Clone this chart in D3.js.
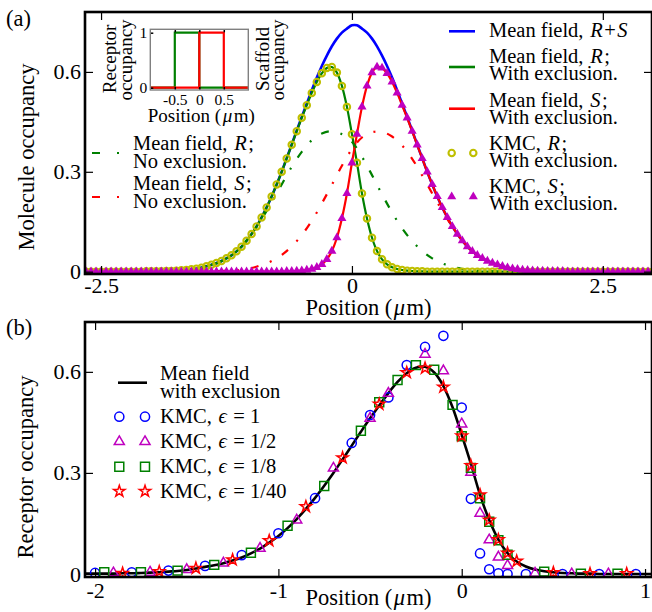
<!DOCTYPE html>
<html><head><meta charset="utf-8">
<script src="https://cdn.jsdelivr.net/npm/d3@7"></script>
<style>
body{margin:0;background:#fff}
svg text{font-family:"Liberation Serif","DejaVu Serif",serif;fill:#000;white-space:pre}
</style></head><body>
<svg id="c" width="652" height="612" xmlns="http://www.w3.org/2000/svg"></svg>
<script>
// ---------------- DATA ----------------
// panel (a): sampling grid of 0.05 um from -2.65 to 3.00 (114 points)
const gridStart = -2.65, gridStep = 0.05;
const mfTotal = [
 0,0,0,0,0,0,0,0,0,0,0,0,
 .001,.001,.001,.001,.002,.002,.003,.004,.005,.007,.009,.012,.016,.021,.026,.032,.040,.049,.061,.075,.093,.113,.136,.163,.193,.226,.262,.300,
 .341,.382,.424,.465,.505,.545,.583,.618,.649,.677,.700,.718,.730,.740,.740,.730,.718,.700,.677,.649,.618,.583,.545,.505,.465,.424,.382,.341,
 .300,.262,.226,.193,.163,.136,.113,.093,.075,.061,.049,.040,.032,.026,.021,.016,.012,.009,.007,.005,.004,.003,.002,.002,.001,.001,.001,.001,
 0,0,0,0,0,0,0,0,0,0,0,0,0,0,0,0,0,0];
const mfR = [
 0,0,0,0,0,0,0,0,0,0,0,0,
 .001,.001,.001,.001,.002,.002,.003,.004,.005,.007,.009,.012,.016,.021,.026,.032,.040,.049,.061,.075,.093,.113,.136,.163,.193,.226,.262,.300,
 .340,.381,.422,.462,.500,.537,.570,.596,.612,.615,.598,.558,.495,.413,.327,.235,.160,.102,.062,.037,.022,.013,.008,.005,.003,.002,.001,.001,
 0,0,0,0,0,0,0,0,0,0,0,0,0,0,0,0,0,0,0,0,0,0,0,0,0,0,0,0,
 0,0,0,0,0,0,0,0,0,0,0,0,0,0,0,0,0,0];
const mfS = [
 0,0,0,0,0,0,0,0,0,0,0,0,0,0,0,0,0,0,0,0,0,0,0,0,0,0,0,0,0,0,0,0,0,0,0,0,0,0,0,0,
 .001,.001,.002,.003,.005,.008,.013,.022,.037,.062,.102,.160,.235,.327,.413,.495,.558,.598,.615,.612,
 .596,.570,.537,.500,.462,.422,.381,.340,.300,.262,.226,.193,.163,.136,.113,.093,.075,.061,.049,.040,
 .032,.026,.021,.016,.012,.009,.007,.005,.004,.003,.002,.002,.001,.001,.001,.001,
 0,0,0,0,0,0,0,0,0,0,0,0,0,0,0,0,0,0];
const kmcR = [
 0,0,0,0,0,0,0,0,0,0,0,0,
 .001,.001,.001,.001,.002,.002,.003,.004,.005,.007,.009,.012,.016,.021,.026,.032,.040,.049,.061,.075,.093,.113,.136,.163,.193,.226,.262,.300,
 .340,.381,.422,.462,.500,.537,.570,.596,.612,.615,.598,.558,.495,.413,.327,.235,.160,.102,.062,.037,.022,.013,.008,.005,.003,.002,.001,.001,
 0,0,0,0,0,0,0,0,0,0,0,0,0,0,0,0,0,0,0,0,0,0,0,0,0,0,0,0,
 0,0,0,0,0,0,0,0,0,0,0,0,0,0,0,0,0,0];
const kmcS = [
 0,0,0,0,0,0,0,0,0,0,0,0,0,0,0,0,0,0,0,0,0,0,0,0,0,0,0,0,0,0,0,0,0,0,0,0,0,0,0,0,
 .001,.001,.002,.003,.005,.008,.013,.022,.037,.062,.102,.160,.235,.327,.413,.495,.558,.598,.615,.612,
 .596,.570,.537,.500,.462,.422,.381,.340,.300,.262,.226,.193,.163,.136,.113,.093,.075,.061,.049,.040,
 .032,.026,.021,.016,.012,.009,.007,.005,.004,.003,.002,.002,.001,.001,.001,.001,
 0,0,0,0,0,0,0,0,0,0,0,0,0,0,0,0,0,0];
// no-exclusion mean field: grid of 0.1 um from -2.7 to 3.0 (58 points)
const noexStart = -2.7, noexStep = 0.1;
const mfRnoex = [
 0,0,0,0,0,0,0,0,0,
 .001,.003,.005,.010,.018,.031,.050,.077,.113,.158,.208,.262,.315,.360,.395,.415,.422,.413,
 .390,.345,.290,.232,.178,.130,.092,.062,.040,.025,.015,.008,.004,.002,.001,
 0,0,0,0,0,0,0,0,0,0,0,0,0,0,0,0];
const mfSnoex = [
 0,0,0,0,0,0,0,0,0,0,0,0,0,
 .001,.002,.003,.006,.011,.020,.032,.050,.076,.110,.153,.205,.261,.318,
 .368,.403,.419,.420,.406,.379,.339,.289,.235,.183,.135,.095,.063,.040,.024,.014,.007,.004,.002,.001,
 0,0,0,0,0,0,0,0,0,0,0];
// inset: step profiles
const insetRX = [-1,-0.5,-0.5,0,0,1],  insetRY = [0,0,1,1,0,0];
const insetSX = [-1,0,0,0.5,0.5,1],    insetSY = [0,0,1,1,0,0];
// panel (b): KMC receptor occupancy for several epsilon
const eps1X  = [-2.0,-1.8,-1.6,-1.4,-1.2,-1.0,-0.8,-0.6,-0.5,-0.4,-0.3,-0.2,-0.1,0.0,0.05,0.10,0.15,0.20,0.25,0.35,0.55,0.75,0.95];
const eps1Y  = [0.003,0.005,0.010,0.024,0.056,0.121,0.225,0.389,0.472,0.524,0.620,0.674,0.707,0.494,0.223,0.061,0.014,0.002,0,0,0,0,0];
const eps2X  = [-1.9,-1.7,-1.5,-1.3,-1.1,-0.9,-0.7,-0.5,-0.4,-0.2,-0.1,0.0,0.05,0.10,0.15,0.20,0.25,0.40,0.60,0.80];
const eps2Y  = [0.003,0.005,0.013,0.032,0.076,0.160,0.314,0.462,0.536,0.652,0.603,0.445,0.302,0.180,0.101,0.050,0.025,0.002,0,0];
const eps8X  = [-1.95,-1.75,-1.55,-1.35,-1.15,-0.95,-0.75,-0.55,-0.45,-0.35,-0.25,-0.15,-0.05,0.0,0.05,0.10,0.15,0.20,0.25,0.45,0.65,0.85];
const eps8Y  = [0.005,0.005,0.010,0.027,0.063,0.143,0.261,0.425,0.510,0.576,0.620,0.606,0.502,0.409,0.315,0.225,0.155,0.100,0.057,0.007,0.001,0.001];
const eps40X = [-1.85,-1.65,-1.45,-1.25,-1.05,-0.85,-0.65,-0.45,-0.3,-0.2,-0.1,0.0,0.05,0.10,0.15,0.20,0.25,0.30,0.50,0.70,0.90];
const eps40Y = [0.002,0.007,0.017,0.042,0.099,0.200,0.345,0.504,0.598,0.611,0.555,0.410,0.322,0.235,0.160,0.102,0.062,0.038,0.004,0.001,0.001];
// ticks
const aXTicks = [-2.5, 0, 2.5], aYTicks = [0, 0.3, 0.6];
const bXTicks = [-2, -1, 0, 1], bYTicks = [0, 0.3, 0.6];
const inXTicks = [-0.5, 0, 0.5], inYTicks = [0, 1];

// ---------------- DRAW ----------------
const svg = d3.select('#c');
const C = {blue:'#0000ff', green:'#008000', red:'#ff0000', mag:'#bf00bf', yel:'#bfbf00'};
const gridX = mfR.map((_, i) => +(gridStart + i*gridStep).toFixed(3));
const noexX = mfRnoex.map((_, i) => +(noexStart + i*noexStep).toFixed(3));
const fmt = d => d === 0 ? '0' : String(d);
const TICKFS = 22, LABFS = 22.5, LEGFS = 20.5;
const FAM = '"Liberation Serif","DejaVu Serif",serif';

// mixed roman/italic text laid out as consecutive text runs
function rich(g, x, y, parts, fs, anchor){
  const grp = g.append('g');
  let cx = 0;
  parts.forEach((p, i) => {
    const t = grp.append('text').attr('x', cx).attr('y', 0).attr('font-size', fs)
      .attr('font-family', FAM).attr('font-style', p[1] ? 'italic' : null).text(p[0]);
    cx += t.node().getComputedTextLength() + (i < parts.length-1 ? 1.5 : 0);
  });
  const off = anchor === 'middle' ? -cx/2 : 0;
  grp.attr('transform', `translate(${x+off},${y})`);
  return grp;
}
function label(g, txt, fs, transform, fill){
  return g.append('text').attr('x',0).attr('y',0).attr('font-size',fs).attr('font-family',FAM)
    .attr('text-anchor','middle').attr('fill',fill||'#000').attr('transform',transform).text(txt);
}
function curve(g, xs, ys, x, y, color, w, dash){
  g.append('path').datum(xs.map((d,i)=>[d, ys[i]]))
   .attr('d', d3.line().x(d=>x(d[0])).y(d=>y(d[1])).curve(d3.curveCatmullRom.alpha(0.5)))
   .attr('fill','none').attr('stroke',color).attr('stroke-width',w)
   .attr('stroke-dasharray', dash || null);
}
function frame(g, P, x, y, xt, yt, pad){
  const axB = g.append('g').attr('transform',`translate(0,${P.b})`)
    .call(d3.axisBottom(x).tickValues(xt).tickFormat(fmt).tickSize(-8).tickPadding(pad));
  const axT = g.append('g').attr('transform',`translate(0,${P.t})`)
    .call(d3.axisTop(x).tickValues(xt).tickFormat('').tickSize(-8));
  const axL = g.append('g').attr('transform',`translate(${P.l},0)`)
    .call(d3.axisLeft(y).tickValues(yt).tickFormat(fmt).tickSize(-8).tickPadding(4));
  const axR = g.append('g').attr('transform',`translate(${P.r},0)`)
    .call(d3.axisRight(y).tickValues(yt).tickFormat('').tickSize(-8));
  [axB,axT,axL,axR].forEach(a => {
    a.attr('font-family', FAM);
    a.select('.domain').remove();
    a.selectAll('line').attr('stroke','#000').attr('stroke-width',1.2);
    a.selectAll('text').attr('font-size',TICKFS).attr('font-family',FAM).attr('fill','#000');
  });
  g.append('rect').attr('x',P.l).attr('y',P.t).attr('width',P.r-P.l).attr('height',P.b-P.t)
   .attr('fill','none').attr('stroke','#000').attr('stroke-width',2.6);
}

// ===== Panel (a) =====
const A = {l:85, r:652, t:12, b:274};
const xA = d3.scaleLinear().domain([-2.66, 2.99]).range([A.l, A.r]);
const yA = d3.scaleLinear().domain([-0.007, 0.78]).range([A.b, A.t]);
svg.append('clipPath').attr('id','clipA').append('rect')
  .attr('x',A.l).attr('y',A.t).attr('width',A.r-A.l).attr('height',A.b-A.t);
const gA = svg.append('g');
const dA = gA.append('g').attr('clip-path','url(#clipA)');
const DASHDOT = '8,12,2,12';
curve(dA, gridX, mfTotal, xA, yA, C.blue, 2.6);
curve(dA, gridX, mfR, xA, yA, C.green, 2.2);
curve(dA, gridX, mfS, xA, yA, C.red, 2.2);
curve(dA, noexX, mfRnoex, xA, yA, C.green, 2.2, DASHDOT);
curve(dA, noexX, mfSnoex, xA, yA, C.red, 2.2, DASHDOT);
dA.append('g').selectAll('circle').data(gridX.map((d,i)=>[d,kmcR[i]])).join('circle')
  .attr('cx',d=>xA(d[0])).attr('cy',d=>yA(d[1])).attr('r',3.2)
  .attr('fill','none').attr('stroke',C.yel).attr('stroke-width',2.1);
const triA = d3.symbol().type(d3.symbolTriangle).size(36);
dA.append('g').selectAll('path').data(gridX.map((d,i)=>[d,kmcS[i]])).join('path')
  .attr('d',triA).attr('transform',d=>`translate(${xA(d[0])},${yA(d[1])})`)
  .attr('fill',C.mag).attr('stroke','none');
frame(gA, A, xA, yA, aXTicks, aYTicks, 3);
// labels
rich(gA, (A.l+A.r)/2, 315, [['Position (',0],['\u03bc',1],['m)',0]], LABFS, 'middle');
label(gA, 'Molecule occupancy', LABFS, 'translate(34,157) rotate(-90)');
rich(gA, 6, 26, [['(a)',0]], LABFS);

// legend (a) right
const legR = gA.append('g');
const legRows = [
  {kind:'line', c:C.blue, hy:31.3, ty:[30.5], txt:[[['Mean field, ',0],['R',1],['+',0],['S',1]]]},
  {kind:'line', c:C.green, hy:67, ty:[56.5,73.5], txt:[[['Mean field, ',0],['R',1],[';',0]],[['With exclusion.',0]]]},
  {kind:'line', c:C.red, hy:108.7, ty:[100,117], txt:[[['Mean field, ',0],['S',1],[';',0]],[['With exclusion.',0]]]},
  {kind:'circ', c:C.yel, hy:153, ty:[143.5,160.5], txt:[[['KMC, ',0],['R',1],[';',0]],[['With exclusion.',0]]]},
  {kind:'tri', c:C.mag, hy:196.7, ty:[186.5,203], txt:[[['KMC, ',0],['S',1],[';',0]],[['With exclusion.',0]]]}
];
legRows.forEach(r => {
  if (r.kind === 'line') legR.append('line').attr('x1',449).attr('x2',475).attr('y1',r.hy).attr('y2',r.hy)
      .attr('stroke',r.c).attr('stroke-width',2.6);
  if (r.kind === 'circ') [451.7,473.3].forEach(x => legR.append('circle').attr('cx',x).attr('cy',r.hy).attr('r',3.2)
      .attr('fill','none').attr('stroke',r.c).attr('stroke-width',2.1));
  if (r.kind === 'tri') [451.7,473.3].forEach(x => legR.append('path').attr('d',triA)
      .attr('transform',`translate(${x},${r.hy})`).attr('fill',r.c));
  r.txt.forEach((parts,k) => rich(legR, 489, r.ty[k]+6.6, parts, LEGFS));
});
// legend (a) left (no exclusion)
const legL = gA.append('g');
[{c:C.green, hy:153, ty:[143.5,161], txt:[[['Mean field, ',0],['R',1],[';',0]],[['No exclusion.',0]]]},
 {c:C.red, hy:197, ty:[183.5,201.5], txt:[[['Mean field, ',0],['S',1],[';',0]],[['No exclusion.',0]]]}]
.forEach(r => {
  legL.append('line').attr('x1',92).attr('x2',121).attr('y1',r.hy).attr('y2',r.hy)
    .attr('stroke',r.c).attr('stroke-width',2.2).attr('stroke-dasharray','8,17,2,10');
  r.txt.forEach((parts,k) => rich(legL, 133, r.ty[k]+6.6, parts, LEGFS));
});

// inset
const I = {l:150.3, r:248.3, t:29.3, b:90};
const xI = d3.scaleLinear().domain([-1, 1]).range([I.l, I.r]);
const yI = d3.scaleLinear().domain([-0.042, 1.062]).range([I.b, I.t]);
const gI = gA.append('g');
gI.append('rect').attr('x',I.l).attr('y',I.t).attr('width',I.r-I.l).attr('height',I.b-I.t).attr('fill','#fff');
const lin = (xs, ys) => d3.line().x((d,i)=>xI(xs[i])).y((d,i)=>yI(ys[i]))(xs);
gI.append('path').attr('d',lin(insetRX, insetRY)).attr('fill','none').attr('stroke',C.green).attr('stroke-width',2.2);
gI.append('path').attr('d',lin(insetSX, insetSY)).attr('fill','none').attr('stroke',C.red).attr('stroke-width',2.2);
const iB = gI.append('g').attr('transform',`translate(0,${I.b})`)
  .call(d3.axisBottom(xI).tickValues(inXTicks).tickFormat(fmt).tickSize(-3).tickPadding(4));
const iT = gI.append('g').attr('transform',`translate(0,${I.t})`)
  .call(d3.axisTop(xI).tickValues(inXTicks).tickFormat('').tickSize(-3));
const iL = gI.append('g').attr('transform',`translate(${I.l},0)`)
  .call(d3.axisLeft(yI).tickValues(inYTicks).tickFormat(fmt).tickSize(-3).tickPadding(3));
[iB,iT,iL].forEach(a => {
  a.select('.domain').remove();
  a.selectAll('line').attr('stroke','#000').attr('stroke-width',1.5);
  a.selectAll('text').attr('font-size',15.5).attr('font-family',FAM).attr('fill','#000');
});
gI.append('rect').attr('x',I.l).attr('y',I.t).attr('width',I.r-I.l).attr('height',I.b-I.t)
  .attr('fill','none').attr('stroke','#808080').attr('stroke-width',1.4);
rich(gI, (I.l+I.r)/2+2, 122, [['Position (',0],['\u03bc',1],['m)',0]], 19, 'middle');
label(gI, 'Receptor', 19, 'translate(116,59) rotate(-90)', C.green);
label(gI, 'occupancy', 19, 'translate(132,60) rotate(-90)', C.green);
label(gI, 'Scaffold', 19, 'translate(269,59) rotate(-90)', C.red);
label(gI, 'occupancy', 19, 'translate(284,60) rotate(-90)', C.red);

// ===== Panel (b) =====
const B = {l:85, r:652, t:322, b:577};
const xB = d3.scaleLinear().domain([-2.055, 1.038]).range([B.l, B.r]);
const yB = d3.scaleLinear().domain([-0.009, 0.748]).range([B.b, B.t]);
svg.append('clipPath').attr('id','clipB').append('rect')
  .attr('x',B.l).attr('y',B.t).attr('width',B.r-B.l).attr('height',B.b-B.t);
const gB = svg.append('g');
const dB = gB.append('g').attr('clip-path','url(#clipB)');
curve(dB, gridX, mfR, xB, yB, '#000', 2.6);
const sym = {
  circ: d3.symbol().type(d3.symbolCircle).size(66),
  tri: d3.symbol().type(d3.symbolTriangle).size(44),
  sq: d3.symbol().type(d3.symbolSquare).size(80),
  star: d3.symbol().type(d3.symbolStar).size(40)
};
const seriesB = [
  {xs:eps1X, ys:eps1Y, s:sym.circ, c:C.blue, lab:'1'},
  {xs:eps2X, ys:eps2Y, s:sym.tri, c:C.mag, lab:'1/2'},
  {xs:eps8X, ys:eps8Y, s:sym.sq, c:C.green, lab:'1/8'},
  {xs:eps40X, ys:eps40Y, s:sym.star, c:C.red, lab:'1/40'}
];
seriesB.forEach(S => {
  dB.append('g').selectAll('path').data(S.xs.map((d,i)=>[d,S.ys[i]])).join('path')
    .attr('d',S.s).attr('transform',d=>`translate(${xB(d[0])},${yB(d[1])})`)
    .attr('fill','none').attr('stroke',S.c).attr('stroke-width',1.5);
});
frame(gB, B, xB, yB, bXTicks, bYTicks, 5);
rich(gB, (B.l+B.r)/2, 605, [['Position (',0],['\u03bc',1],['m)',0]], LABFS, 'middle');
label(gB, 'Receptor occupancy', LABFS, 'translate(33,467) rotate(-90)');
rich(gB, 6, 335, [['(b)',0]], LABFS);
// legend (b)
const legB = gB.append('g');
legB.append('line').attr('x1',118).attr('x2',147).attr('y1',382.7).attr('y2',382.7).attr('stroke','#000').attr('stroke-width',2.6);
rich(legB, 160, 373.5+6.6, [['Mean field',0]], LEGFS);
rich(legB, 160, 391.5+6.6, [['with exclusion',0]], LEGFS);
const legBy = [416.7, 441.7, 466.7, 491.3];
seriesB.forEach((S,k) => {
  [119.3,145].forEach(x => legB.append('path').attr('d',S.s).attr('transform',`translate(${x},${legBy[k]})`)
    .attr('fill','none').attr('stroke',S.c).attr('stroke-width',1.5));
  rich(legB, 160, legBy[k]+6.6, [['KMC, ',0],['\u03f5',1],[' = '+S.lab,0]], LEGFS);
});
</script>
</body></html>
